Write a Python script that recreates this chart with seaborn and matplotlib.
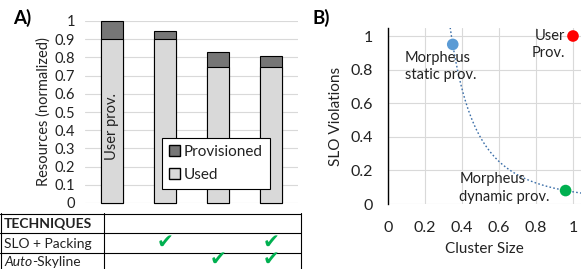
import numpy as np
import pandas as pd
import matplotlib
matplotlib.use("Agg")
import matplotlib.pyplot as plt
import matplotlib.transforms as mtransforms
from matplotlib.patches import Patch
import seaborn as sns

# ---- data ----
configs = ["User prov.", "Morpheus A", "Morpheus B", "Morpheus C"]
used = [0.90, 0.90, 0.75, 0.745]
provisioned_total = [1.00, 0.945, 0.83, 0.81]
a_yticks = [0, 0.1, 0.2, 0.3, 0.4, 0.5, 0.6, 0.7, 0.8, 0.9, 1]

techniques = ["SLO + Packing", "Auto-Skyline"]
slo_packing = [False, True, False, True]
auto_skyline = [False, False, True, True]

points = ["Morpheus\nstatic prov.", "User\nProv.", "Morpheus\ndynamic prov."]
cluster_size = [0.35, 1.00, 0.96]
slo_violations = [0.95, 1.00, 0.08]
point_colors = ["#5b9bd5", "#ff0000", "#00b050"]
b_ticks = [0, 0.2, 0.4, 0.6, 0.8, 1]

sns.set_style("white")
plt.rcParams["font.family"] = ["Lato", "DejaVu Sans"]
txt = "#222222"

fig = plt.figure(figsize=(5.81, 2.69), dpi=100)
W, H = 581, 269


def px_axes(x0, y0, x1, y1):
    # pixel box (top-left origin) -> figure axes
    return fig.add_axes([x0 / W, 1 - y1 / H, (x1 - x0) / W, (y1 - y0) / H])


# ---- panel A: stacked bars ----
axA = px_axes(85, 21, 298, 203)
df = pd.DataFrame({"config": configs, "used": used, "total": provisioned_total})
sns.barplot(data=df, x="config", y="total", color="#767676", edgecolor="black",
            linewidth=0.8, width=0.41, saturation=1, ax=axA)
sns.barplot(data=df, x="config", y="used", color="#d9d9d9", edgecolor="black",
            linewidth=0.8, width=0.41, saturation=1, ax=axA)
for p in axA.patches:
    p.set_clip_on(False)
    p.set_zorder(3)
axA.set_xlim(-0.5, 3.5)
axA.set_ylim(0, 1)
axA.set_yticks(a_yticks)
axA.set_yticklabels([f"{v:g}" for v in a_yticks])
axA.yaxis.grid(True, color="#d9d9d9", linewidth=0.8)
axA.set_axisbelow(True)
for s in axA.spines.values():
    s.set_visible(False)
axA.set_xticks([])
axA.set_xlabel("")
axA.set_ylabel("Resources (normalized)", fontsize=10.5, color=txt, labelpad=3)
axA.tick_params(axis="y", length=0, pad=7, labelsize=10.5, labelcolor=txt)
axA.text(0, 0.42, configs[0], rotation=90, ha="center", va="center",
         fontsize=10.5, color=txt, zorder=5)
leg = axA.legend(handles=[Patch(facecolor="#767676", edgecolor="black", label="Provisioned"),
                          Patch(facecolor="#d9d9d9", edgecolor="black", label="Used")],
                 loc="lower left", bbox_to_anchor=(0.36, 0.077), fontsize=11,
                 frameon=True, fancybox=False, edgecolor="black", framealpha=1,
                 handlelength=0.75, handleheight=0.75, handletextpad=0.25,
                 labelspacing=0.6, borderpad=0.45, borderaxespad=0)
leg.get_frame().set_linewidth(0.8)
leg.set_zorder(6)
for t in leg.get_texts():
    t.set_color(txt)
fig.text(13 / W, 1 - 18 / H, "A)", fontsize=13.5, fontweight="bold", va="center", color="black")

# ---- technique table ----
axT = px_axes(0, 213, 301, 269)
axT.set_xlim(0, 301)
axT.set_ylim(56, 0)
axT.axis("off")
for y in [0.5, 20, 40]:
    axT.plot([0, 301], [y, y], color="black", linewidth=0.8, clip_on=False)
for x in [0.5, 104, 300.5]:
    axT.plot([x, x], [0, 56], color="black", linewidth=0.8, clip_on=False)
axT.text(4, 10.5, "TECHNIQUES", fontsize=10, fontweight="bold", va="center", color=txt)
axT.text(4, 30.5, techniques[0], fontsize=10, va="center", color=txt)
t1 = axT.text(4, 49.5, "Auto", fontsize=10, style="italic", va="center", color=txt)
axT.annotate("-Skyline", xy=(1, 0), xycoords=t1, va="bottom", ha="left",
             fontsize=10, color=txt)
blend = mtransforms.blended_transform_factory(axA.transData, axT.transData)
for row_y, checks in [(29, slo_packing), (46.5, auto_skyline)]:
    for i, c in enumerate(checks):
        if c:
            axT.text(i, row_y, "\u2714", transform=blend, ha="center", va="center",
                     fontsize=14.5, color="#00b050", family="DejaVu Sans")

# ---- panel B: scatter with power trend ----
axB = px_axes(388, 28, 581, 204)
logfit = np.polyfit(np.log([cluster_size[0], cluster_size[2]]),
                    np.log([slo_violations[0], slo_violations[2]]), 1)
xs = np.linspace(0.333, 1.05, 200)
trend = pd.DataFrame({"x": xs, "y": np.exp(np.polyval(logfit, np.log(xs)))})
sns.lineplot(data=trend, x="x", y="y", ax=axB, color="#3b6ea8", linewidth=1.0,
             linestyle=(0, (1.2, 1.6)))
sdf = pd.DataFrame({"x": cluster_size, "y": slo_violations, "name": points})
sns.scatterplot(data=sdf, x="x", y="y", hue="name", palette=point_colors, s=70,
                edgecolor="none", legend=False, ax=axB, zorder=4, clip_on=False)
axB.set_xlim(0, 193 / 185)
axB.set_ylim(0, 176 / 168)
axB.set_xticks(b_ticks)
axB.set_yticks(b_ticks)
axB.set_xticklabels([f"{v:g}" for v in b_ticks])
axB.set_yticklabels([f"{v:g}" for v in b_ticks])
axB.grid(True, color="#d9d9d9", linewidth=0.8)
axB.set_axisbelow(True)
for k in ["top", "right", "bottom"]:
    axB.spines[k].set_visible(False)
axB.spines["left"].set_color("black")
axB.spines["left"].set_linewidth(1.0)
axB.tick_params(axis="both", length=0, labelsize=11.5, labelcolor=txt)
axB.tick_params(axis="x", pad=12)
axB.tick_params(axis="y", pad=11)
axB.set_xlabel("Cluster Size", fontsize=11, color=txt, labelpad=5)
axB.set_ylabel("SLO Violations", fontsize=11, color=txt, labelpad=5)
axB.text(0.09, 0.82, points[0], fontsize=10.5, color=txt, va="center", ha="left",
         linespacing=1.3)
axB.text(0.955, 0.95, points[1], fontsize=10.5, color=txt, va="center", ha="right",
         linespacing=1.3)
axB.text(0.385, 0.095, points[2], fontsize=10.5, color=txt, va="center", ha="left",
         linespacing=1.3)
fig.text(313 / W, 1 - 18 / H, "B)", fontsize=13.5, fontweight="bold", va="center", color="black")

fig.savefig("out.png", dpi=100)
